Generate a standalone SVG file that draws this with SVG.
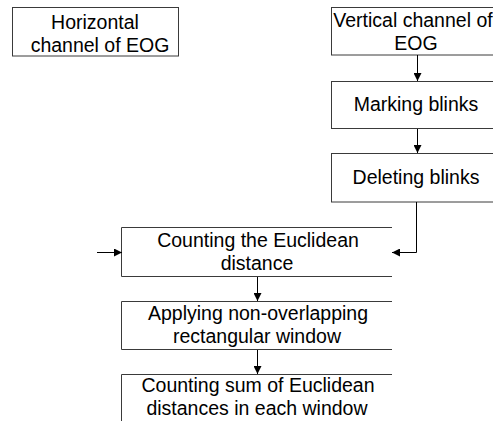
<svg xmlns="http://www.w3.org/2000/svg" width="493" height="421" viewBox="0 0 493 421">
  <defs>
    <marker id="arr" viewBox="0 0 10 10" refX="10" refY="5" markerWidth="9" markerHeight="8" markerUnits="userSpaceOnUse" orient="auto">
      <path d="M0,0 L10,5 L0,10 Z" fill="#000"/>
    </marker>
    <style>
      .box { fill: #fff; stroke: #3a3a3a; stroke-width: 1; }
      .open { fill: none; stroke: #3a3a3a; stroke-width: 1; }
      .lbl { font-family: "Liberation Sans", Arial, sans-serif; font-size: 19.5px; fill: #000; text-anchor: middle; }
      .conn { fill: none; stroke: #000; stroke-width: 1; marker-end: url(#arr); }
    </style>
  </defs>
  <rect width="493" height="421" fill="#fff"/>

  <g id="horizontal">
    <rect class="box" x="12.5" y="7.5" width="166" height="48.5"/>
    <text class="lbl" x="95" y="29">Horizontal</text>
    <text class="lbl" x="100" y="52">channel of EOG</text>
  </g>

  <g id="vertical">
    <rect class="box" x="331.5" y="7.5" width="180" height="47.5"/>
    <text class="lbl" x="413" y="27">Vertical channel of</text>
    <text class="lbl" x="416" y="50">EOG</text>
  </g>

  <g id="marking">
    <rect class="box" x="331.5" y="81.5" width="180" height="47"/>
    <text class="lbl" x="416" y="111">Marking blinks</text>
  </g>

  <g id="deleting">
    <rect class="box" x="331.5" y="153.5" width="180" height="48.5"/>
    <text class="lbl" x="416" y="184">Deleting blinks</text>
  </g>

  <g id="euclidean">
    <path class="open" d="M392,227.5 H121.5 V276.5 H392"/>
    <text class="lbl" x="258" y="247">Counting the Euclidean</text>
    <text class="lbl" x="257" y="270">distance</text>
  </g>

  <g id="window">
    <path class="open" d="M392,301.5 H121.5 V349.5 H392"/>
    <text class="lbl" x="258" y="320">Applying non-overlapping</text>
    <text class="lbl" x="257" y="343">rectangular window</text>
  </g>

  <g id="sum">
    <path class="open" d="M392,374.5 H121.5 V421"/>
    <text class="lbl" x="258" y="392">Counting sum of Euclidean</text>
    <text class="lbl" x="257" y="415">distances in each window</text>
  </g>

  <g id="connectors">
    <line class="conn" x1="417.5" y1="55" x2="417.5" y2="81"/>
    <line class="conn" x1="417.5" y1="129" x2="417.5" y2="153"/>
    <path class="conn" d="M416.5,202 V252.5 H392"/>
    <line class="conn" x1="97" y1="252.5" x2="122" y2="252.5"/>
    <line class="conn" x1="257.5" y1="277" x2="257.5" y2="301"/>
    <line class="conn" x1="257.5" y1="350" x2="257.5" y2="374"/>
  </g>
</svg>
